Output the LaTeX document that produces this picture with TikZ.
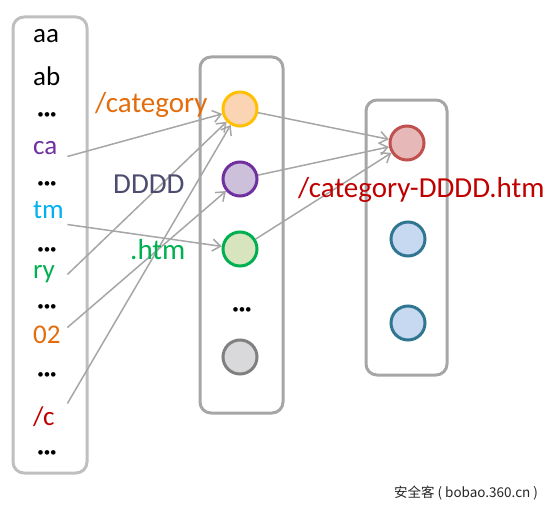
\documentclass[tikz,border=0pt]{standalone}
\usepackage{fontspec}
\setmainfont{Carlito}
\newfontfamily\cjkfont{Noto Sans CJK SC}
\usetikzlibrary{arrows.meta}

\definecolor{boxlight}{RGB}{191,191,191}
\definecolor{boxdark}{RGB}{166,166,166}
\definecolor{linkgray}{RGB}{166,166,166}
\definecolor{cpurple}{RGB}{112,48,160}
\definecolor{ccyan}{RGB}{0,176,240}
\definecolor{cgreen}{RGB}{0,176,80}
\definecolor{corange}{RGB}{228,108,10}
\definecolor{cred}{RGB}{192,0,0}
\definecolor{cslate}{RGB}{76,76,110}
\definecolor{yline}{RGB}{255,192,0}
\definecolor{yfill}{RGB}{251,212,180}
\definecolor{pfill}{RGB}{204,192,218}
\definecolor{gfill}{RGB}{215,228,189}
\definecolor{kline}{RGB}{128,128,128}
\definecolor{kfill}{RGB}{217,217,220}
\definecolor{rline}{RGB}{192,80,77}
\definecolor{rfill}{RGB}{230,185,184}
\definecolor{bline}{RGB}{49,118,145}
\definecolor{bfill}{RGB}{198,217,241}

\begin{document}
\begin{tikzpicture}[x=1pt,y=-1pt,
  box/.style={draw=#1, line width=3pt, rounded corners=11pt},
  ball/.style={circle, draw=#1, line width=3pt, minimum size=34pt, inner sep=0pt},
  key/.style={anchor=base west, inner sep=0pt, text width=34pt, text height=18pt, text depth=5pt, font=\fontsize{27}{27}\selectfont},
  gap/.style={anchor=base, inner sep=0pt, font=\fontsize{13}{13}\selectfont},
  part/.style={anchor=base west, inner sep=0pt, font=\fontsize{29}{29}\selectfont},
  link/.style={draw=linkgray, line width=1.5pt, -{Straight Barb[length=8pt,width=12pt]}}]
\useasboundingbox (0,0) rectangle (559,511);

% boxes
\draw[box=boxlight] (13,17) rectangle (87,473);
\draw[box=boxdark] (200,57) rectangle (283,413);
\draw[box=boxdark] (366,100) rectangle (447,375);

% left column
\node[key] (aa) at (33,43) {aa};
\node[key] (ab) at (33,85) {ab};
\node[gap] (g1) at (47,118) {•••};
\node[key, text=cpurple] (ca) at (33,154) {ca};
\node[gap] (g2) at (47,187) {•••};
\node[key, text=ccyan] (tm) at (33,218) {tm};
\node[gap] (g3) at (47,253) {•••};
\node[key, text=cgreen] (ry) at (33,278) {ry};
\node[gap] (g4) at (47,310) {•••};
\node[key, text=corange] (o2) at (33,343) {02};
\node[gap] (g5) at (47,378) {•••};
\node[key, text=cred] (sc) at (33,425) {/c};
\node[gap] (g6) at (47,456) {•••};

% middle column
\node[ball=yline, fill=yfill] (c1) at (240,109) {};
\node[ball=cpurple, fill=pfill] (c2) at (240,179) {};
\node[ball=cgreen, fill=gfill] (c3) at (240,249) {};
\node[gap] (g7) at (242,313) {•••};
\node[ball=kline, fill=kfill] (c4) at (240,357) {};

% right column
\node[ball=rline, fill=rfill] (r1) at (407,143) {};
\node[ball=bline, fill=bfill] (r2) at (408,239) {};
\node[ball=bline, fill=bfill] (r3) at (408,323) {};

% links
\draw[link] ([yshift=-9pt]ca.east) -- (c1);
\draw[link] ([yshift=-13pt]tm.east) -- (c3);
\draw[link] ([yshift=-3pt]ry.east) -- (c1);
\draw[link] ([yshift=9pt]o2.east) -- (c2);
\draw[link] ([yshift=15pt]sc.east) -- (c1);
\draw[link] (c1) -- (r1);
\draw[link] (c2) -- (r1);
\draw[link] (c3) -- (r1);

% parts
\node[part, text=corange] (lcat) at (95,112) {/category};
\node[part, text=cslate] (ldddd) at (113,193) {DDDD};
\node[part, text=cgreen] (lhtm) at (130,259) {.htm};
\node[part, text=cred] (lfull) at (298,197) {/category-DDDD.htm};

\node[anchor=base, inner sep=0pt, text=black!85, font=\cjkfont\fontsize{13.5}{13.5}\selectfont] (mark) at (466,497) {安全客 ( bobao.360.cn )};
\end{tikzpicture}
\end{document}
